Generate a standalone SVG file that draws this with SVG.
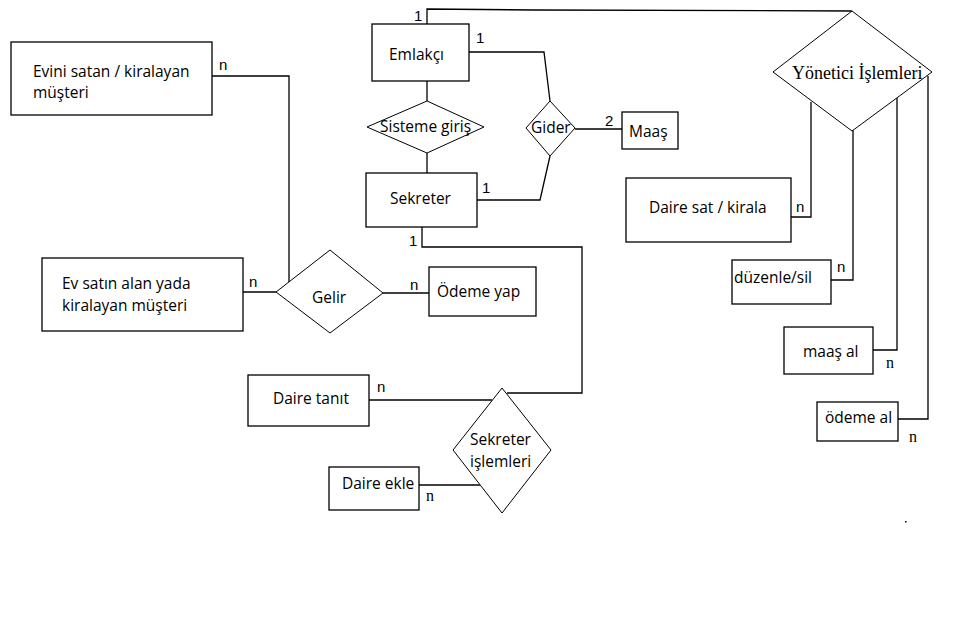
<svg xmlns="http://www.w3.org/2000/svg" width="953" height="618" viewBox="0 0 953 618">
<style>
.b{fill:#fff;stroke:#000;stroke-width:1.3}
.d{fill:#fff;stroke:#000;stroke-width:1}
.t{font-family:"Open Sans","Liberation Sans",sans-serif;font-size:15.5px;fill:#000}
.s{font-family:"Liberation Serif",serif;font-size:18px;fill:#000}
.c{fill:none;stroke:#000;stroke-width:1.3}
.l{font-family:"Liberation Sans",sans-serif;font-size:15px;fill:#000}
.ls{font-family:"Liberation Serif",serif;font-size:16px;fill:#000}
</style>
<rect width="953" height="618" fill="#fff"/>
<g id="connectors">
<polyline class="c" points="427,24 427,9 535,10 852,11"/>
<polyline class="c" points="469,52 544,52 550,101"/>
<polyline class="c" points="477,200 540,200 550,156"/>
<line class="c" x1="575" y1="129" x2="622" y2="129"/>
<line class="c" x1="427" y1="81" x2="427" y2="101"/>
<line class="c" x1="427" y1="153" x2="427" y2="173"/>
<polyline class="c" points="212,76 289,76 289,285"/>
<line class="c" x1="243" y1="292" x2="276" y2="292"/>
<line class="c" x1="383" y1="293" x2="429" y2="293"/>
<polyline class="c" points="422,227 422,247 582,247 582,393 507,393"/>
<line class="c" x1="369" y1="400" x2="492" y2="400"/>
<line class="c" x1="419" y1="485" x2="480" y2="485"/>
<polyline class="c" points="791,217 811,217 811,102"/>
<polyline class="c" points="831,280 853,280 853,130"/>
<polyline class="c" points="873,350 897,350 897,97"/>
<polyline class="c" points="898,419 928,419 928,76"/>
</g>
<g id="labels">
<text class="l" x="414" y="21">1</text>
<text class="l" x="476" y="43">1</text>
<text class="l" x="605" y="126">2</text>
<text class="l" x="482" y="193">1</text>
<text class="l" x="409" y="246">1</text>
<text class="l" x="219" y="70">n</text>
<text class="l" x="249" y="287">n</text>
<text class="l" x="410" y="290">n</text>
<text class="l" x="377" y="392">n</text>
<text class="ls" x="426" y="501">n</text>
<text class="l" x="796" y="212">n</text>
<text class="l" x="837" y="272">n</text>
<text class="ls" x="886" y="368">n</text>
<text class="ls" x="909" y="442">n</text>
</g>
<g id="emlakci"><rect class="b" x="372" y="24" width="97" height="57"/><text class="t" x="389" y="60">Emlakçı</text></g>
<g id="sisteme-giris"><polygon class="d" points="427,101 484,127 427,153 367,127"/><text class="t" x="380" y="132">Sisteme giriş</text></g>
<g id="sekreter"><rect class="b" x="366" y="173" width="111" height="54"/><text class="t" x="390" y="204">Sekreter</text></g>
<g id="gider"><polygon class="d" points="550,101 575,128 550,156 526,128"/><text class="t" x="531" y="133">Gider</text></g>
<g id="maas"><rect class="b" x="622" y="112" width="56" height="37"/><text class="t" x="629" y="137">Maaş</text></g>
<g id="yonetici"><polygon class="d" points="852,11 932,72 852,131 773,72"/><text class="s" x="792" y="79">Yönetici İşlemleri</text></g>
<g id="evini-satan"><rect class="b" x="11" y="42" width="201" height="73"/><text class="t" x="33" y="77">Evini satan / kiralayan</text><text class="t" x="33" y="98">müşteri</text></g>
<g id="ev-satin-alan"><rect class="b" x="42" y="258" width="201" height="73"/><text class="t" x="62" y="289">Ev satın alan yada</text><text class="t" x="62" y="311">kiralayan müşteri</text></g>
<g id="gelir"><polygon class="d" points="330,250 383,293 330,333 276,292"/><text class="t" x="312" y="303">Gelir</text></g>
<g id="odeme-yap"><rect class="b" x="429" y="267" width="107" height="49"/><text class="t" x="437" y="297">Ödeme yap</text></g>
<g id="daire-tanit"><rect class="b" x="248" y="375" width="121" height="51"/><text class="t" x="273" y="404">Daire tanıt</text></g>
<g id="sekreter-islemleri"><polygon class="d" points="502,388 551,450 502,513 453,450"/><text class="t" x="470" y="445">Sekreter</text><text class="t" x="470" y="467">işlemleri</text></g>
<g id="daire-ekle"><rect class="b" x="329" y="467" width="90" height="43"/><text class="t" x="342" y="489">Daire ekle</text></g>
<g id="daire-sat"><rect class="b" x="626" y="178" width="165" height="64"/><text class="t" x="649" y="213">Daire sat / kirala</text></g>
<g id="duzenle-sil"><rect class="b" x="732" y="260" width="99" height="44"/><text class="t" x="734" y="283">düzenle/sil</text></g>
<g id="maas-al"><rect class="b" x="784" y="327" width="89" height="47"/><text class="t" x="803" y="357">maaş al</text></g>
<g id="odeme-al"><rect class="b" x="817" y="402" width="81" height="39"/><text class="t" x="825" y="423">ödeme al</text></g>
<rect x="905" y="521" width="1.5" height="1.5" fill="#000"/>
</svg>
